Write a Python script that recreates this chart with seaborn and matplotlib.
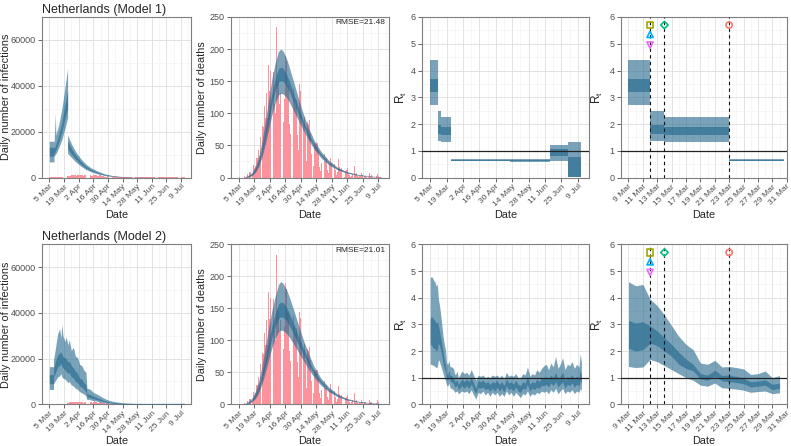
import numpy as np
import pandas as pd
import matplotlib
matplotlib.use("Agg")
import matplotlib.pyplot as plt
import matplotlib.dates as mdates
import seaborn as sns

# Observed daily counts for the Netherlands, one value per day from 5 Mar 2020
obs_start = "2020-03-05"
deaths = [0, 1, 0, 0, 0, 2, 0, 1, 5, 1, 8, 8, 4, 19, 15, 18, 30, 30, 43, 34, 63, 80, 78, 112, 93, 132, 93,
          175, 134, 166, 148, 164, 115, 101, 234, 147, 148, 115, 132, 94, 86, 122, 189, 181, 144, 142, 83, 67,
          165, 138, 123, 112, 120, 66, 43, 145, 135,
          98, 84, 94, 69, 26, 86, 84, 90, 70, 36, 18, 54, 52, 53, 53, 43, 17, 10, 22, 52, 37, 25, 30, 12, 7,
          21, 31, 23, 22, 21, 12,
          4, 9, 29, 16, 11, 15, 7, 1, 10, 12, 15, 6, 4, 1, 3, 6, 18, 5, 7, 2, 1, 2, 2, 7, 4, 3, 3, 1, 0, 1,
          7, 3, 4, 1, 1, 0, 2, 6, 3, 1, 1, 0]
cases = [44, 46, 60, 77, 56, 61, 121, 111, 190, 155, 176, 278, 292, 346, 409, 534, 637, 573, 545, 811, 852,
         1019, 1172, 1159, 1104, 884, 845,
         1019, 1083, 1026, 904, 1224, 952, 777, 969, 1213, 1335, 1316, 1174, 964, 868, 734, 1061, 1235, 1140,
         1066, 750, 729, 887, 1066, 814, 655, 708, 400, 171, 386, 514,
         475, 445, 335, 199, 144, 232, 455, 319, 232, 246, 196, 161, 199, 180, 253, 186, 175, 130, 123, 148,
         188, 227, 178, 127, 122, 140, 198, 111, 214, 200, 179,
         103, 96, 128, 210, 161, 184, 154, 176, 85, 108, 184, 196, 167, 182, 130, 107, 123, 127, 101, 116,
         94, 98, 117, 65, 126, 74, 52, 107, 66, 55,
         58, 48, 57, 89, 75, 64, 38, 58, 74, 67, 93, 62]

# Model 1 - estimated infections (95% and 50% bands)
inf1_date = ["3-5", "3-9 12:00", "3-9 12:00", "3-10 18:00", "3-11 06:00", "3-14", "3-17", "3-20",
             "3-22 12:00", "3-22 12:00", "3-26", "3-30", "4-4", "4-9", "4-14", "4-20", "4-27", "5-5",
             "5-14", "5-25", "6-8", "6-25", "7-12"]
inf1_lo = [6800, 6800, 9500, 10000, 10300, 13000, 16500, 21500, 26000, 10500, 8800, 6900, 5000, 3500, 2500,
           1600, 900, 450, 200, 80, 25, 8, 2]
inf1_lo50 = [9300, 9300, 10500, 11500, 12000, 15500, 20000, 26000, 30000, 12500, 10300, 8100, 5800, 4100, 2900,
             1900, 1050, 540, 250, 100, 35, 10, 3]
inf1_hi50 = [13200, 13200, 12500, 14000, 14500, 18500, 24000, 32000, 38000, 16000, 12800, 9900, 7000, 4900,
             3500, 2300, 1300, 670, 330, 140, 50, 15, 5]
inf1_hi = [15800, 15800, 14500, 28000, 18500, 23000, 30000, 39500, 47500, 18500, 14800, 11400, 8300, 5800,
           4200, 2800, 1600, 820, 420, 180, 70, 22, 7]

# Model 2 - estimated infections
inf2_date = ["3-5", "3-9", "3-9", "3-11", "3-13", "3-15", "3-16", "3-17", "3-18", "3-20", "3-21", "3-23",
             "3-24", "3-26", "3-28", "3-30", "4-1", "4-3", "4-5", "4-7", "4-9", "4-10", "4-12", "4-14",
             "4-16", "4-19", "4-22", "4-25", "4-28", "5-2", "5-7", "5-14", "5-24", "6-7", "6-21", "7-5", "7-12"]
inf2_lo = [6500, 6500, 9000, 10500, 12000, 12500, 13500, 12000, 11500, 11000, 10500, 9500, 10000, 8500, 8000,
           7000, 6500, 5500, 5000, 4500, 3800, 2000, 2200, 1800, 1700, 1400, 1100, 800, 600, 400, 250, 150,
           80, 60, 60, 60, 70]
inf2_lo50 = [9000, 9000, 12000, 14000, 16500, 17000, 18000, 16500, 16000, 15000, 14500, 13500, 14000, 12000,
             11500, 10000, 9500, 8000, 7500, 6500, 5500, 3000, 3100, 2700, 2500, 2100, 1700, 1300, 1000, 700,
             450, 250, 150, 120, 120, 120, 140]
inf2_hi50 = [13000, 13000, 15500, 19000, 21500, 22500, 23000, 22000, 21000, 20500, 20000, 18500, 19000, 17000,
             16000, 14500, 13500, 11500, 11000, 9500, 8500, 4500, 4500, 4000, 3600, 3000, 2500, 1900, 1500,
             1000, 700, 400, 250, 200, 220, 220, 250]
inf2_hi = [16500, 16500, 19500, 25000, 31000, 33000, 29000, 35000, 30000, 27500, 29500, 26000, 28500, 23500,
           25000, 21000, 20500, 17500, 17000, 15000, 14000, 7000, 6800, 6200, 5200, 4600, 3800, 3000, 2300,
           1600, 1100, 700, 450, 380, 420, 420, 480]

# Modelled deaths
dth_date = ["3-10", "3-14", "3-17", "3-20", "3-23", "3-26", "3-29", "4-1", "4-4", "4-7", "4-10", "4-12",
            "4-14", "4-17", "4-20", "4-24", "4-28", "5-2", "5-7", "5-12", "5-18", "5-25", "6-2", "6-10",
            "6-20", "7-1", "7-12"]
dth1_lo = [0, 1, 3, 8, 17, 32, 52, 75, 98, 117, 129, 131, 130, 125, 116, 102, 88, 74, 58, 44, 31, 20, 12, 7,
           3.5, 1.5, 0.6]
dth1_lo50 = [0, 1.5, 4, 10, 21, 39, 62, 88, 115, 136, 149, 151, 150, 143, 132, 115, 98, 82, 63, 48, 34, 22,
             13, 7.5, 4, 1.8, 0.7]
dth1_hi50 = [0, 2.5, 6, 13, 26, 46, 73, 103, 132, 155, 170, 172, 170, 161, 148, 128, 108, 89, 69, 52, 37, 24,
             14.5, 8.5, 4.5, 2.1, 0.8]
dth1_hi = [0.5, 4, 8, 17, 32, 57, 88, 122, 155, 180, 197, 200, 197, 186, 169, 146, 122, 100, 77, 58, 41, 27,
           16, 9.5, 5, 2.5, 1]
dth2_lo = [0, 1.5, 4, 9, 18, 32, 50, 70, 89, 104, 114, 116, 115, 111, 104, 93, 81, 69, 55, 42, 30, 20, 12, 7,
           3.5, 1.5, 0.6]
dth2_lo50 = [0, 2, 5, 11, 22, 39, 60, 83, 105, 122, 134, 137, 136, 131, 122, 108, 93, 79, 62, 47, 33, 22, 13,
             7.5, 4, 1.8, 0.7]
dth2_hi50 = [0, 3, 7, 15, 28, 48, 72, 99, 123, 143, 157, 160, 159, 152, 141, 124, 106, 89, 69, 52, 37, 24,
             14.5, 8.5, 4.5, 2.1, 0.8]
dth2_hi = [0.5, 5, 10, 20, 36, 60, 90, 120, 148, 170, 188, 192, 189, 180, 166, 145, 123, 102, 79, 59, 41, 27,
           16, 9.5, 5, 2.5, 1]
rmse = ["RMSE=21.48", "RMSE=21.01"]

# Model 1 - piecewise constant Rt
rt1_start = ["3-5", "3-12", "3-14", "3-23", "5-12", "6-15", "7-1"]
rt1_end = ["3-12", "3-14", "3-23", "5-12", "6-15", "7-1", "7-12"]
rt1_lo = [2.70, 1.35, 1.33, 0.61, 0.57, 0.62, 0.02]
rt1_lo50 = [3.20, 1.63, 1.60, 0.63, 0.60, 0.80, 0.02]
rt1_hi50 = [3.70, 1.97, 1.90, 0.67, 0.67, 1.05, 0.78]
rt1_hi = [4.40, 2.48, 2.25, 0.69, 0.71, 1.22, 1.33]

# Model 2 - time-varying Rt
rt2_date = ["3-5", "3-6", "3-7", "3-8", "3-9", "3-10", "3-11", "3-12", "3-13", "3-14", "3-15", "3-16",
            "3-17", "3-18", "3-19", "3-20", "3-21", "3-22", "3-23", "3-24", "3-25", "3-26", "3-27", "3-28",
            "3-29", "3-30", "4-1", "4-3", "4-5", "4-7", "4-9", "4-11", "4-13", "4-15", "4-17", "4-19",
            "4-21", "4-23", "4-25", "4-27", "4-29", "5-1", "5-3", "5-5", "5-7", "5-9", "5-11", "5-13",
            "5-15", "5-17", "5-19", "5-21", "5-23", "5-25", "5-27", "5-29", "5-31", "6-2", "6-4", "6-6",
            "6-8", "6-10", "6-12", "6-14", "6-16", "6-18", "6-20", "6-22", "6-24", "6-26", "6-28", "6-30",
            "7-2", "7-4", "7-6", "7-8", "7-10", "7-11", "7-12"]
rt2_lo = [1.50, 1.50, 1.48, 1.45, 1.42, 1.38, 1.40, 1.68, 1.60, 1.45, 1.30, 1.15, 1.00, 0.90, 0.72, 0.68,
          0.80, 0.62, 0.60, 0.57, 0.53, 0.45, 0.48, 0.50, 0.40, 0.43, 0.50, 0.45, 0.50, 0.40, 0.55, 0.35,
          0.20, 0.45, 0.40, 0.50, 0.35, 0.45, 0.30, 0.45, 0.35, 0.45, 0.30, 0.40, 0.30, 0.50, 0.35, 0.45,
          0.30, 0.45, 0.35, 0.25, 0.40, 0.35, 0.50, 0.30, 0.40, 0.35, 0.45, 0.40, 0.50, 0.45, 0.50, 0.40,
          0.55, 0.45, 0.60, 0.40, 0.50, 0.60, 0.40, 0.50, 0.45, 0.55, 0.40, 0.50, 0.45, 0.60, 0.50]
rt2_lo50 = [2.20, 2.25, 2.15, 2.10, 2.10, 2.00, 2.05, 2.30, 2.20, 2.00, 1.80, 1.50, 1.35, 1.25, 0.95, 0.90,
            1.05, 0.88, 0.85, 0.82, 0.77, 0.65, 0.68, 0.72, 0.55, 0.60, 0.70, 0.60, 0.70, 0.60, 0.75, 0.55,
            0.40, 0.65, 0.60, 0.65, 0.55, 0.60, 0.50, 0.60, 0.50, 0.65, 0.50, 0.60, 0.45, 0.70, 0.55, 0.60,
            0.50, 0.65, 0.50, 0.45, 0.60, 0.55, 0.75, 0.50, 0.60, 0.55, 0.65, 0.60, 0.70, 0.70, 0.75, 0.65,
            0.80, 0.70, 0.85, 0.65, 0.75, 0.85, 0.60, 0.75, 0.70, 0.80, 0.65, 0.75, 0.70, 0.90, 0.75]
rt2_hi50 = [3.20, 3.30, 3.25, 3.20, 3.15, 3.05, 3.10, 2.95, 2.75, 2.50, 2.25, 1.95, 1.70, 1.50, 1.15, 1.10,
            1.28, 1.08, 1.10, 1.05, 0.98, 0.85, 0.87, 0.92, 0.75, 0.80, 0.95, 0.85, 0.95, 0.85, 1.00, 0.80,
            0.60, 0.90, 0.85, 0.90, 0.80, 0.85, 0.75, 0.85, 0.80, 0.90, 0.75, 0.85, 0.70, 0.95, 0.80, 0.85,
            0.75, 0.90, 0.75, 0.70, 0.85, 0.80, 1.05, 0.75, 0.85, 0.80, 0.95, 0.85, 1.00, 1.00, 1.05, 0.95,
            1.10, 1.00, 1.20, 0.95, 1.05, 1.20, 0.90, 1.05, 1.00, 1.10, 0.95, 1.05, 1.00, 1.30, 1.10]
rt2_hi = [4.75, 4.80, 4.75, 4.65, 4.60, 4.45, 4.50, 3.95, 3.70, 3.35, 2.95, 2.55, 2.25, 2.05, 1.55, 1.50,
          1.65, 1.40, 1.42, 1.38, 1.33, 1.12, 1.15, 1.25, 1.00, 1.08, 1.25, 1.15, 1.20, 1.10, 1.30, 1.10,
          0.90, 1.10, 1.05, 1.10, 1.00, 1.05, 1.00, 1.10, 1.05, 1.10, 1.00, 1.10, 0.95, 1.20, 1.05, 1.10,
          1.05, 1.15, 1.00, 1.00, 1.15, 1.10, 1.40, 1.05, 1.15, 1.10, 1.30, 1.20, 1.35, 1.45, 1.50, 1.30,
          1.55, 1.40, 1.80, 1.35, 1.50, 1.75, 1.30, 1.50, 1.45, 1.60, 1.35, 1.50, 1.40, 1.90, 1.60]

# Interventions (markers above the zoomed Rt panels)
iv_name = ["Self isolating if ill", "Public events banned", "Social distancing encouraged",
           "Schools closed", "Lockdown"]
iv_date = ["3-12", "3-12", "3-12", "3-14", "3-23"]
iv_y = [5.70, 5.35, 4.95, 5.70, 5.70]
iv_marker = ["s", "^", "v", "D", "o"]
iv_color = ["#A3A500", "#00B0F6", "#E76BF3", "#00BF7D", "#F8766D"]

titles = ["Netherlands (Model 1)", "Netherlands (Model 2)"]


def to_dates(lst):
    return pd.to_datetime(["2020-" + s for s in lst], format="mixed").to_numpy()


sns.set_theme(style="whitegrid")
plt.rcParams["font.family"] = ["Liberation Sans", "DejaVu Sans"]
plt.rcParams["mathtext.fontset"] = "custom"
plt.rcParams["mathtext.rm"] = "Liberation Sans"
plt.rcParams["mathtext.it"] = "Liberation Sans"

BAND = "#21668C"
BAR = "#fc939c"
obs_dates = pd.date_range(obs_start, periods=len(deaths), freq="D").to_numpy()

long_lim = (pd.Timestamp("2020-02-27 12:00"), pd.Timestamp("2020-07-18 12:00"))
short_lim = (pd.Timestamp("2020-03-07 23:00"), pd.Timestamp("2020-03-31 01:00"))
long_major = pd.date_range("2020-03-05", "2020-07-09", freq="14D")
long_minor = pd.date_range("2020-02-27", "2020-07-16", freq="14D")
short_major = pd.date_range("2020-03-09", "2020-03-31", freq="2D")
short_minor = pd.date_range("2020-03-08", "2020-03-30", freq="2D")
win4 = (pd.Timestamp("2020-03-09"), pd.Timestamp("2020-03-30 16:00"))

fig = plt.figure(figsize=(7.91, 4.46), dpi=100)
W, H = 791, 446
col_px = [(42, 191), (231, 389), (422, 589), (621, 787)]
row_px = [(17, 177.5), (244.5, 404.3)]
axes = [[fig.add_axes([l / W, 1 - b / H, (r - l) / W, (b - t) / H]) for (l, r) in col_px]
        for (t, b) in row_px]
ylab_x = [-0.205, -0.152, -0.078, -0.096]
xlab_y = [-0.205, -0.2]


def style(ax, ymax, ystep, short=False):
    ax.set_facecolor("white")
    for s in ax.spines.values():
        s.set_visible(True)
        s.set_color("#7f7f7f")
        s.set_linewidth(0.8)
    if short:
        ax.set_xlim(*short_lim)
        ax.set_xticks(short_major)
        ax.set_xticks(short_minor, minor=True)
    else:
        ax.set_xlim(*long_lim)
        ax.set_xticks(long_major)
        ax.set_xticks(long_minor, minor=True)
    ax.xaxis.set_major_formatter(mdates.DateFormatter("%-d %b"))
    ax.set_ylim(0, ymax)
    ax.set_yticks(np.arange(0, ymax + 1e-9, ystep))
    ax.set_yticks(np.arange(ystep / 2, ymax, ystep), minor=True)
    ax.grid(True, which="major", color="#e3e3e3", lw=0.7)
    ax.grid(True, which="minor", color="#f0f0f0", lw=0.4)
    ax.set_axisbelow(True)
    ax.tick_params(axis="both", which="major", labelsize=6.5, labelcolor="#4d4d4d",
                   length=3, width=0.6, color="#4d4d4d", pad=1.5, bottom=True, left=True)
    ax.tick_params(axis="x", which="major", labelsize=6.1, pad=1)
    ax.tick_params(axis="both", which="minor", length=0)
    for lab in ax.get_xticklabels():
        lab.set_rotation(45)
        lab.set_ha("right")
        lab.set_rotation_mode("anchor")
    ax.set_xlabel("Date", fontsize=7.8, va="top")


def band(ax, x, lo, lo50, hi50, hi):
    ax.fill_between(x, lo, hi, color=BAND, alpha=0.6, lw=0, zorder=3)
    ax.fill_between(x, lo50, hi50, color=BAND, alpha=0.6, lw=0, zorder=3)


def rt1_steps(ax, window=None):
    for s, e, a, b, c, d in zip(rt1_start, rt1_end, rt1_lo, rt1_lo50, rt1_hi50, rt1_hi):
        s, e = pd.Timestamp("2020-" + s), pd.Timestamp("2020-" + e)
        if window is not None:
            s, e = max(s, window[0]), min(e, window[1])
            if s >= e:
                continue
        band(ax, [s, e], [a, a], [b, b], [c, c], [d, d])


inf_sets = [(inf1_date, inf1_lo, inf1_lo50, inf1_hi50, inf1_hi),
            (inf2_date, inf2_lo, inf2_lo50, inf2_hi50, inf2_hi)]
dth_sets = [(dth1_lo, dth1_lo50, dth1_hi50, dth1_hi), (dth2_lo, dth2_lo50, dth2_hi50, dth2_hi)]

for r in range(2):
    # infections
    ax = axes[r][0]
    ax.bar(obs_dates, cases, width=0.85, color=BAR, lw=0, zorder=2)
    d, a, b, c, e = inf_sets[r]
    band(ax, to_dates(d), a, b, c, e)
    style(ax, 70000, 20000)
    ax.set_ylabel("Daily number of infections", fontsize=7.8)
    ax.set_title(titles[r], loc="left", fontsize=9, pad=3)

    # deaths
    ax = axes[r][1]
    ax.bar(obs_dates, deaths, width=0.85, color=BAR, lw=0, zorder=2)
    band(ax, to_dates(dth_date), *dth_sets[r])
    style(ax, 250, 50)
    ax.set_ylabel("Daily number of deaths", fontsize=7.8)
    ax.text(0.975, 0.985, rmse[r], transform=ax.transAxes, ha="right", va="top", fontsize=6, zorder=5)

    # Rt over the whole period
    ax = axes[r][2]
    if r == 0:
        rt1_steps(ax)
    else:
        band(ax, to_dates(rt2_date), rt2_lo, rt2_lo50, rt2_hi50, rt2_hi)
    ax.axhline(1, color="#222222", lw=0.9, zorder=4)
    style(ax, 6, 1)
    ax.set_ylabel(r"R$_\mathrm{t}$", fontsize=8.5)

    # Rt around the interventions
    ax = axes[r][3]
    if r == 0:
        rt1_steps(ax, win4)
    else:
        x2 = to_dates(rt2_date)
        keep = (x2 >= np.datetime64(win4[0])) & (x2 <= np.datetime64(win4[1]))
        band(ax, x2[keep], np.array(rt2_lo)[keep], np.array(rt2_lo50)[keep],
             np.array(rt2_hi50)[keep], np.array(rt2_hi)[keep])
    ax.axhline(1, color="#222222", lw=0.9, zorder=4)
    for xd in sorted(set(iv_date)):
        ax.axvline(pd.Timestamp("2020-" + xd), color="#111111", lw=0.8, ls=(0, (3, 3)), zorder=4)
    for nm, xd, yv, mk, col in zip(iv_name, iv_date, iv_y, iv_marker, iv_color):
        ax.scatter([pd.Timestamp("2020-" + xd)], [yv], marker=mk, s=20 if mk != "D" else 14,
                   facecolors="none", edgecolors=col, linewidths=1.2, zorder=6, label=nm)
    style(ax, 6, 1, short=True)
    ax.set_ylabel(r"R$_\mathrm{t}$", fontsize=8.5)

    for c in range(4):
        axes[r][c].yaxis.set_label_coords(ylab_x[c], 0.5)
        axes[r][c].xaxis.set_label_coords(0.5, xlab_y[r])

fig.savefig("out.png", dpi=100)
